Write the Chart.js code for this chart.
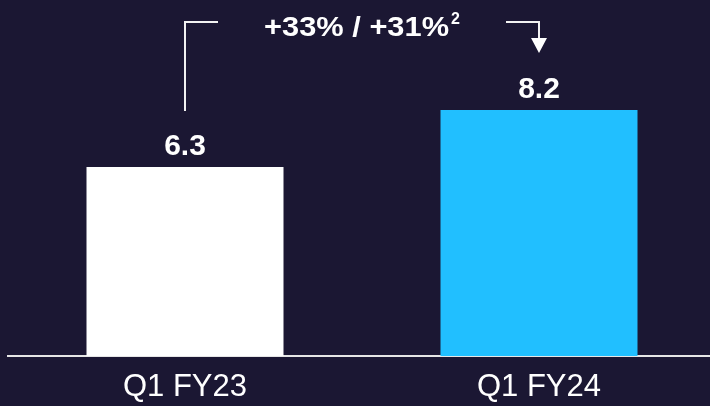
<!DOCTYPE html>
<html>
<head>
<meta charset="utf-8">
<script src="https://cdn.jsdelivr.net/npm/chart.js@4"></script>
<style>
  html, body { margin: 0; padding: 0; background: #1b1733; overflow: hidden; }
  #wrap { width: 710px; height: 406px; overflow: hidden; }
</style>
</head>
<body>
<div id="wrap"><canvas id="revenueChart" width="716" height="406"></canvas></div>
<script>
// Data
const categories = ['Q1 FY23', 'Q1 FY24'];
const values = [6.3, 8.2];
const barColors = ['#ffffff', '#21bfff'];
const growthText = '+33% / +31%';
const growthNote = '2';

const FONT = '"Liberation Sans", Arial, sans-serif';

// value labels above bars + growth bracket / arrow
const decorPlugin = {
    id: 'decor',
    afterDatasetsDraw(chart) {
        const ctx = chart.ctx;
        const bars = chart.getDatasetMeta(0).data;
        ctx.save();

        // value labels
        ctx.fillStyle = '#ffffff';
        ctx.font = 'bold 30px ' + FONT;
        ctx.textAlign = 'center';
        ctx.textBaseline = 'alphabetic';
        bars.forEach((bar, i) => {
            ctx.fillText(values[i].toFixed(1), bar.x, bar.y - 12);
        });

        const b0 = bars[0], b1 = bars[1];
        ctx.strokeStyle = '#f2f2f2';
        ctx.fillStyle = '#ffffff';
        ctx.lineWidth = 2;

        // left bracket
        ctx.beginPath();
        ctx.moveTo(b0.x, b0.y - 56);
        ctx.lineTo(b0.x, 22);
        ctx.lineTo(b0.x + 33, 22);
        ctx.stroke();

        // right arrow
        ctx.beginPath();
        ctx.moveTo(b1.x - 33, 22);
        ctx.lineTo(b1.x, 22);
        ctx.lineTo(b1.x, 39);
        ctx.stroke();
        ctx.beginPath();
        ctx.moveTo(b1.x - 8, 38);
        ctx.lineTo(b1.x + 8, 38);
        ctx.lineTo(b1.x, 53);
        ctx.closePath();
        ctx.fill();

        // growth text (slightly wide face) with superscript
        const mid = (b0.x + b1.x) / 2;
        const sx = 1.1;
        ctx.font = 'bold 28px ' + FONT;
        const w1 = ctx.measureText(growthText).width * sx;
        ctx.font = 'bold 16px ' + FONT;
        const w2 = ctx.measureText(growthNote).width;
        const gap = 2;
        const x0 = mid - (w1 + gap + w2) / 2;
        ctx.textAlign = 'left';
        ctx.save();
        ctx.translate(x0, 36);
        ctx.scale(sx, 1);
        ctx.font = 'bold 28px ' + FONT;
        ctx.fillText(growthText, 0, 0);
        ctx.restore();
        ctx.font = 'bold 16px ' + FONT;
        ctx.fillText(growthNote, x0 + w1 + gap, 24);

        ctx.restore();
    }
};

const ctx = document.getElementById('revenueChart').getContext('2d');
const chart = new Chart(ctx, {
    type: 'bar',
    data: {
        labels: categories,
        datasets: [{
            data: values,
            backgroundColor: barColors,
            borderWidth: 0,
            categoryPercentage: 1,
            barPercentage: 0.5565
        }]
    },
    options: {
        responsive: false,
        animation: false,
        devicePixelRatio: 1,
        layout: { padding: { left: 8, right: 0, top: 56, bottom: 0 } },
        plugins: {
            legend: { display: false },
            tooltip: { enabled: false }
        },
        scales: {
            x: {
                grid: { display: false },
                border: { display: true, color: '#e6e6e6', width: 2 },
                ticks: {
                    color: '#ffffff',
                    font: { family: FONT, size: 31 },
                    padding: 5,
                    maxRotation: 0
                },
                afterFit(scale) { scale.height = 50; }
            },
            y: {
                display: false,
                min: 0,
                max: 10
            }
        }
    },
    plugins: [decorPlugin]
});
</script>
</body>
</html>
